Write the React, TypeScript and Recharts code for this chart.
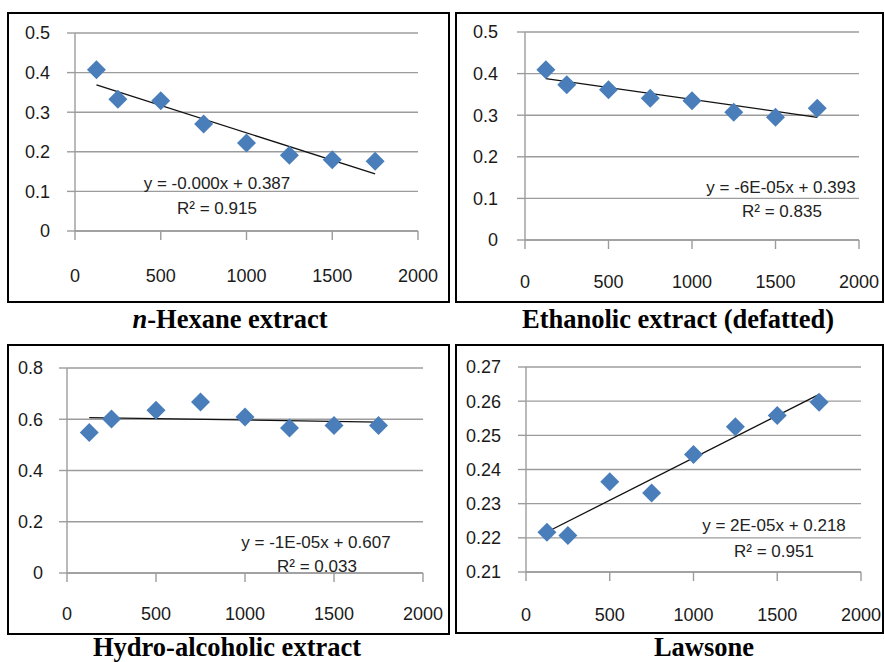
// App.tsx
//
// Four small scatter plots (absorbance vs. concentration) with linear trend
// lines, laid out 2x2 like an Excel figure pasted into a paper.

import { ScatterChart, Scatter, XAxis, YAxis, CartesianGrid, ReferenceLine } from 'recharts';

// ─── Data ─────────────────────────────────────────────────────────────────────

const doses = [125, 250, 500, 750, 1000, 1250, 1500, 1750];

const hexane    = [0.407, 0.333, 0.329, 0.270, 0.222, 0.191, 0.180, 0.176];
const ethanolic = [0.409, 0.373, 0.361, 0.341, 0.335, 0.307, 0.295, 0.317];
const hydro     = [0.548, 0.601, 0.635, 0.667, 0.609, 0.566, 0.576, 0.576];
const lawsone   = [0.2216, 0.2207, 0.2364, 0.2331, 0.2444, 0.2525, 0.2558, 0.2597];

// trend line end values at the first and last dose
const hexaneTrend    = [0.369, 0.144];
const ethanolicTrend = [0.388, 0.295];
const hydroTrend     = [0.606, 0.589];
const lawsoneTrend   = [0.2217, 0.2620];

const xTicks        = [0, 500, 1000, 1500, 2000];
const yTicksSmall   = [0, 0.1, 0.2, 0.3, 0.4, 0.5];
const yTicksHydro   = [0, 0.2, 0.4, 0.6, 0.8];
const yTicksLawsone = [0.21, 0.22, 0.23, 0.24, 0.25, 0.26, 0.27];

const titles    = ['n-Hexane extract', 'Ethanolic extract (defatted)', 'Hydro-alcoholic extract', 'Lawsone'];
const equations = ['y = -0.000x + 0.387', 'y = -6E-05x + 0.393', 'y = -1E-05x + 0.607', 'y = 2E-05x + 0.218'];
const rSquared  = ['R² = 0.915', 'R² = 0.835', 'R² = 0.033', 'R² = 0.951'];

// ─── Style ────────────────────────────────────────────────────────────────────

const GRID   = '#9c9c9c';
const MARKER = '#4a7ebb';
const TEXT   = '#1a1a1a';
const SANS   = '"Liberation Sans", Arial, sans-serif';
const SERIF  = '"Liberation Serif", "Times New Roman", serif';

const Y_AXIS_W = 60;
const X_AXIS_H = 60;
const M_TOP    = 14;
const M_RIGHT  = 26;

// ─── Pieces ───────────────────────────────────────────────────────────────────

function Diamond(props: any) {
  const { cx, cy } = props;
  if (cx == null || cy == null) return <g />;
  const r = 9.5;
  return (
    <polygon
      points={`${cx},${cy - r} ${cx + r},${cy} ${cx},${cy + r} ${cx - r},${cy}`}
      fill={MARKER}
    />
  );
}

type Plot = { x0: number; x1: number; yTop: number; yBot: number };

type PanelProps = {
  plot:     Plot;
  values:   number[];
  trend:    number[];
  yTicks:   number[];
  yDigits:  number;
  yGap:     number; // tick margin for y labels
  xGap:     number; // tick margin for x labels
};

function Panel({ plot, values, trend, yTicks, yDigits, yGap, xGap }: PanelProps) {
  const data = doses.map((x, i) => ({ x, y: values[i] }));
  const left = plot.x0 - Y_AXIS_W;
  const top = plot.yTop - M_TOP;
  const width = plot.x1 - plot.x0 + Y_AXIS_W + M_RIGHT;
  const height = plot.yBot - plot.yTop + M_TOP + X_AXIS_H;
  const tick = { fill: TEXT, fontSize: 18, fontFamily: SANS };

  return (
    <div style={{ position: 'absolute', left, top }}>
      <ScatterChart
        width={width}
        height={height}
        margin={{ top: M_TOP, right: M_RIGHT, bottom: 0, left: 0 }}
      >
        <CartesianGrid vertical={false} stroke={GRID} strokeWidth={1.4} />
        <XAxis
          type="number"
          dataKey="x"
          domain={[0, 2000]}
          ticks={xTicks}
          interval={0}
          height={X_AXIS_H}
          tick={tick}
          tickSize={9}
          tickMargin={xGap}
          stroke={GRID}
          strokeWidth={1.4}
        />
        <YAxis
          type="number"
          dataKey="y"
          domain={[yTicks[0], yTicks[yTicks.length - 1]]}
          ticks={yTicks}
          interval={0}
          width={Y_AXIS_W}
          tick={tick}
          tickSize={8}
          tickMargin={yGap}
          tickFormatter={(v: number) => (v === 0 ? '0' : v.toFixed(yDigits))}
          stroke={GRID}
          strokeWidth={1.4}
        />
        <Scatter data={data} shape={Diamond} isAnimationActive={false} />
        <ReferenceLine
          segment={[
            { x: doses[0], y: trend[0] },
            { x: doses[doses.length - 1], y: trend[1] },
          ]}
          stroke="#111"
          strokeWidth={1.3}
        />
      </ScatterChart>
    </div>
  );
}

function Box({ left, top, width, height }: { left: number; top: number; width: number; height: number }) {
  return (
    <div
      style={{
        position: 'absolute',
        left,
        top,
        width,
        height,
        boxSizing: 'border-box',
        border: '2.5px solid #000',
      }}
    />
  );
}

function Equation({ cx, cy, text }: { cx: number; cy: number; text: string }) {
  return (
    <div
      style={{
        position: 'absolute',
        left: cx - 110,
        top: cy - 8.3,
        width: 220,
        textAlign: 'center',
        fontFamily: SANS,
        fontSize: 17,
        lineHeight: '17px',
        color: '#222',
        whiteSpace: 'nowrap',
      }}
    >
      {text}
    </div>
  );
}

function Title({ cx, baseline, children }: { cx: number; baseline: number; children: any }) {
  return (
    <div
      style={{
        position: 'absolute',
        left: cx - 220,
        top: baseline - 22.2,
        width: 440,
        textAlign: 'center',
        fontFamily: SERIF,
        fontWeight: 'bold',
        fontSize: 26.5,
        lineHeight: '26.5px',
        color: '#000',
        whiteSpace: 'nowrap',
      }}
    >
      {children}
    </div>
  );
}

// ─── Page ─────────────────────────────────────────────────────────────────────

export default function App() {
  return (
    <div
      style={{
        position: 'absolute',
        left: 0,
        top: 0,
        width: 885,
        height: 662,
        overflow: 'hidden',
        background: '#fff',
      }}
    >
      <Box left={7} top={12} width={443} height={291} />
      <Box left={455} top={12} width={429} height={291} />
      <Box left={7} top={344} width={443} height={291} />
      <Box left={455} top={344} width={429} height={290} />

      <Panel
        plot={{ x0: 75, x1: 418, yTop: 33, yBot: 231 }}
        values={hexane}
        trend={hexaneTrend}
        yTicks={yTicksSmall}
        yDigits={1}
        yGap={17}
        xGap={29}
      />
      <Panel
        plot={{ x0: 525, x1: 859, yTop: 32, yBot: 240 }}
        values={ethanolic}
        trend={ethanolicTrend}
        yTicks={yTicksSmall}
        yDigits={1}
        yGap={19}
        xGap={26}
      />
      <Panel
        plot={{ x0: 67, x1: 423, yTop: 368, yBot: 573 }}
        values={hydro}
        trend={hydroTrend}
        yTicks={yTicksHydro}
        yDigits={1}
        yGap={16}
        xGap={25}
      />
      <Panel
        plot={{ x0: 526, x1: 861, yTop: 367, yBot: 572 }}
        values={lawsone}
        trend={lawsoneTrend}
        yTicks={yTicksLawsone}
        yDigits={2}
        yGap={17}
        xGap={27}
      />

      <Equation cx={217} cy={183} text={equations[0]} />
      <Equation cx={217} cy={208} text={rSquared[0]} />
      <Equation cx={781} cy={187} text={equations[1]} />
      <Equation cx={782} cy={211} text={rSquared[1]} />
      <Equation cx={316} cy={542} text={equations[2]} />
      <Equation cx={317} cy={566} text={rSquared[2]} />
      <Equation cx={774} cy={525} text={equations[3]} />
      <Equation cx={774} cy={551} text={rSquared[3]} />

      <Title cx={230} baseline={328}>
        <i>n</i>{titles[0].slice(1)}
      </Title>
      <Title cx={678} baseline={328}>{titles[1]}</Title>
      <Title cx={227} baseline={656}>{titles[2]}</Title>
      <Title cx={704} baseline={656}>{titles[3]}</Title>
    </div>
  );
}
